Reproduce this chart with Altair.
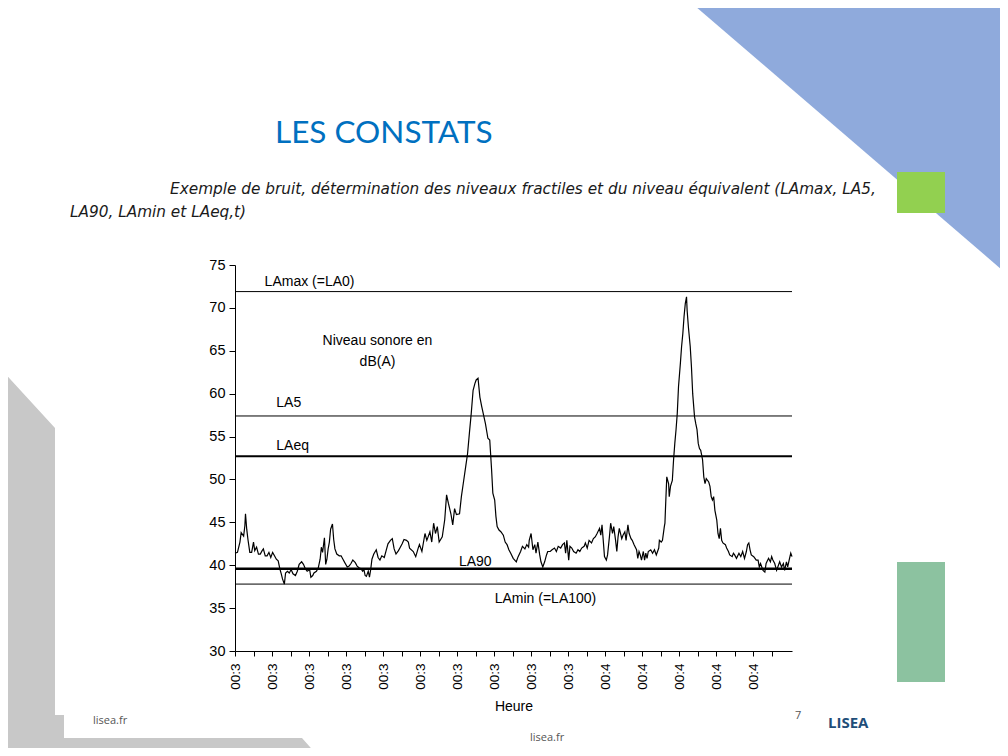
import altair as alt
import pandas as pd

# ---------------- data ----------------
# time in seconds from the first tick (one label = 1 minute), level in dB(A)
T1 = [0, 4, 8, 10, 14, 16, 17, 19, 21, 24,
      27, 30, 32, 35, 38, 41, 44, 46, 49, 52,
      55, 58, 61, 64, 67, 70, 73, 75, 77, 80,
      82, 85, 88, 91, 94, 98, 101, 104, 108, 111,
      114, 117, 121, 123, 126, 128, 132, 135, 138, 140,
      142, 145, 147, 149, 151, 153, 155, 158, 160, 162,
      165, 169, 172, 175, 178, 182, 185, 188, 191, 195,
      198, 201, 204, 207, 209, 211, 213, 216, 218, 220,
      222, 225, 229, 232, 235, 238, 242, 245, 248, 252,
      255, 258, 261, 265, 268, 271, 274, 278, 281]
D1 = [41.4, 41.5, 42.7, 43.8, 43.4, 44.6, 46.0, 44.2, 43.0, 41.5,
      41.5, 42.7, 41.7, 42.1, 41.3, 41.3, 41.7, 41.9, 41.1, 41.1,
      41.5, 40.9, 41.5, 41.1, 40.7, 40.5, 39.5, 39.0, 38.4, 37.8,
      39.1, 39.3, 39.1, 39.5, 39.0, 38.8, 39.3, 40.1, 40.4, 40.1,
      39.6, 39.3, 39.5, 38.6, 38.8, 39.1, 39.3, 39.7, 40.7, 42.1,
      41.5, 43.2, 40.1, 40.7, 41.9, 42.7, 44.2, 44.8, 43.0, 41.9,
      41.3, 41.1, 41.1, 40.7, 40.3, 39.8, 39.9, 40.2, 40.6, 40.3,
      39.9, 39.7, 39.6, 39.3, 39.5, 38.8, 38.7, 39.3, 38.6, 39.5,
      40.7, 41.3, 41.8, 40.9, 40.6, 41.1, 40.9, 41.7, 42.5, 42.9,
      43.1, 41.9, 41.3, 41.7, 42.1, 42.5, 43.0, 42.9, 42.7]

T2 = [283, 289, 293, 297, 299, 303, 308, 311, 316, 319,
      322, 325, 328, 331, 336, 340, 343, 346, 350, 353,
      356, 359, 364, 367, 370, 374, 377, 380, 383, 386,
      389, 391, 394, 397, 400, 403, 406, 410, 413, 416,
      418, 421, 423, 425, 428, 431, 435, 438, 441, 444,
      447, 451, 456, 459, 463, 466, 470, 473, 476]
D2 = [42.0, 41.6, 41.0, 42.0, 42.4, 41.6, 43.7, 42.9, 43.9, 42.7,
      44.9, 43.7, 44.5, 42.7, 43.3, 45.3, 48.2, 47.2, 46.0, 44.7,
      46.6, 45.9, 46.0, 48.0, 49.5, 51.5, 53.0, 55.4, 57.7, 60.4,
      61.2, 61.6, 61.8, 59.6, 58.5, 57.5, 56.5, 54.8, 54.6, 51.1,
      48.4, 47.6, 45.7, 44.5, 44.1, 43.9, 43.5, 42.7, 42.4, 41.8,
      41.4, 40.8, 40.4, 41.0, 41.6, 42.2, 41.9, 42.4, 42.1]

T3 = [477, 480, 483, 486, 488, 491, 494, 496, 499, 502,
      505, 507, 511, 514, 518, 521, 524, 528, 531, 534,
      536, 538, 541, 543, 546, 549, 553, 556, 559, 562,
      566, 568, 571, 574, 578, 581, 584, 587, 591, 593,
      595, 597, 599, 602, 604, 607, 609, 612, 614, 617,
      619, 621, 623, 627, 629, 632, 634, 637, 639, 642,
      644, 647, 651, 653, 655, 657, 659, 662, 664, 666,
      668, 670, 674, 677, 680, 683, 687, 688, 691, 693,
      696]
D3 = [42.9, 43.7, 41.8, 42.4, 41.4, 42.7, 41.2, 40.4, 39.8, 40.4,
      41.2, 41.6, 41.6, 41.8, 42.0, 41.6, 42.2, 42.0, 42.4, 42.6,
      41.4, 42.9, 40.6, 42.2, 42.0, 41.6, 41.4, 41.8, 41.6, 42.0,
      42.2, 42.6, 42.0, 42.9, 42.6, 43.1, 43.3, 43.7, 44.3, 43.5,
      44.7, 42.9, 41.0, 40.6, 41.2, 43.3, 44.9, 43.7, 44.5, 42.9,
      41.6, 43.3, 44.3, 43.1, 43.5, 43.9, 42.9, 44.7, 43.7, 43.1,
      42.9, 42.4, 41.8, 40.8, 41.6, 41.2, 40.6, 41.6, 40.6, 41.4,
      40.8, 41.6, 41.8, 41.4, 41.8, 41.2, 42.0, 42.9, 42.7, 42.9,
      44.5]

T4 = [697, 698, 700, 703, 704, 706, 709, 711, 713, 715,
      717, 719, 722, 724, 726, 728, 730, 732, 733, 735,
      738, 740, 742, 745, 747, 749, 751, 753, 755, 758,
      760, 762, 764, 768, 770, 772, 774, 776, 778, 781,
      783, 785, 787, 789, 791, 795, 797, 800, 802, 806,
      808, 810, 813, 817, 820, 823, 826, 829, 831, 833,
      835, 837, 841, 843, 845, 848, 850, 852, 856, 859,
      861, 865, 868, 870, 872, 875, 878, 881, 883, 886,
      889, 891, 894, 896, 899, 901, 903]
D4 = [44.9, 46.8, 50.3, 49.5, 48.0, 49.2, 49.9, 52.3, 54.2, 55.8,
      57.7, 60.8, 63.5, 65.5, 67.0, 69.0, 70.5, 71.3, 69.7, 67.8,
      65.5, 63.1, 60.0, 57.3, 56.5, 55.8, 54.2, 53.6, 53.4, 52.3,
      50.3, 49.5, 50.1, 49.7, 49.2, 48.0, 47.6, 48.0, 46.4, 45.3,
      43.7, 43.1, 44.3, 42.9, 42.6, 42.4, 42.0, 41.6, 41.2, 41.0,
      41.4, 41.2, 40.8, 41.4, 41.0, 41.6, 40.8, 41.6, 42.4, 42.6,
      41.8, 41.2, 41.0, 40.8, 40.6, 40.6, 39.8, 40.2, 39.4, 39.2,
      40.2, 40.8, 40.4, 41.0, 40.6, 40.2, 39.4, 40.0, 40.4, 39.8,
      40.2, 39.4, 40.4, 39.8, 40.8, 41.4, 41.0]

TIME_S = T1 + T2 + T3 + T4
LEVEL_DB = D1 + D2 + D3 + D4

REF_NAMES = ["LAmax", "LA5", "LAeq", "LA90", "LAmin"]
REF_LEVELS = [71.9, 57.4, 52.7, 39.6, 37.8]

ANNOT_TEXT = ["LAmax (=LA0)", "Niveau sonore en", "dB(A)", "LA5", "LAeq", "LA90", "LAmin (=LA100)"]
ANNOT_T = [48, 231, 231, 67, 67, 363, 421]
ANNOT_DB = [73.0, 66.1, 63.7, 58.9, 53.9, 40.4, 36.1]

TICK_SECONDS = list(range(0, 871, 30))
LABEL_SECONDS = list(range(0, 841, 60))
LABEL_TEXT = ["00:3"] * 10 + ["00:4"] * 5

TITLE = "LES CONSTATS"
SUBTITLE_1 = "Exemple de bruit, détermination des niveaux fractiles et du niveau équivalent (LAmax, LA5,"
SUBTITLE_2 = "LA90, LAmin et LAeq,t)"
X_TITLE = "Heure"
FOOTER_1 = "lisea.fr"
FOOTER_2 = "lisea.fr"
LOGO = "LISEA"
PAGE_NO = "7"

# ---------------- styles ----------------
RULE_WIDTH = {"LAmax": 1, "LA5": 1, "LAeq": 2, "LA90": 2.5, "LAmin": 1}
CENTERED = {"Niveau sonore en", "dB(A)"}
FONT = "Liberation Sans"
W, H = 557, 386

df_line = pd.DataFrame({"t": TIME_S, "db": LEVEL_DB})
dummy = pd.DataFrame({"d": [0]})

label_expr = " : ".join(f"datum.value == {s} ? '{t}'" for s, t in zip(LABEL_SECONDS, LABEL_TEXT)) + " : ''"

xscale = alt.Scale(domain=[0, 903], nice=False, zero=False)
yscale = alt.Scale(domain=[30, 75], nice=False, zero=False)
x_axis = alt.Axis(values=TICK_SECONDS, labelExpr=label_expr, labelAngle=270, labelFont=FONT,
                  labelFontSize=13.5, labelPadding=7, tickSize=5, labelOverlap=False, labelFlush=False,
                  title=X_TITLE, titleFont=FONT, titleFontSize=14, titleFontWeight="normal",
                  titlePadding=10, grid=False, domainColor="black", tickColor="black",
                  labelColor="black", titleColor="black")
y_axis = alt.Axis(values=list(range(30, 76, 5)), labelFont=FONT, labelFontSize=14.5, labelPadding=4,
                  tickSize=6, labelFlush=False, title=None, grid=False, domainColor="black",
                  tickColor="black", labelColor="black")


def X(field):
    return alt.X(f"{field}:Q", scale=xscale, axis=x_axis)


def Y(field):
    return alt.Y(f"{field}:Q", scale=yscale, axis=y_axis)


def shape(path, color):
    return alt.Chart(dummy).mark_point(shape=path, size=4, filled=True, color=color, opacity=1,
                                       strokeWidth=0).encode(x=alt.value(0), y=alt.value(0))


def box(x1, x2, y1, y2, color):
    return alt.Chart(dummy).mark_rect(color=color).encode(
        x=alt.value(x1), x2=alt.value(x2), y=alt.value(y1), y2=alt.value(y2))


def label(txt, x, y, **kw):
    return alt.Chart(pd.DataFrame({"txt": [txt]})).mark_text(align="left", baseline="middle", **kw).encode(
        x=alt.value(x), y=alt.value(y), text="txt:N")


layers = [
    shape("M453,-265L773,-265L773,10Z", "#8FAADC"),
    shape("M-235,103L-180,163L-180,450L-171,450L-171,473L67,473L83,491L-235,491Z", "#C8C8C8"),
    box(662, 710, -93, -52, "#92D050"),
    box(662, 710, 297, 417, "#8CC2A0"),
    label(FOOTER_1, -142, 456, font="Open Sans", fontSize=11, color="#555555"),
    label(FOOTER_2, 295, 473, font="Open Sans", fontSize=11, color="#555555"),
    label(LOGO, 593, 458, font="Open Sans", fontSize=15, fontWeight="bold", color="#1F4E79"),
    label(PAGE_NO, 560, 451, font="Open Sans", fontSize=11, color="#555555"),
    label(TITLE, 40, -131, font="Lato", fontSize=31.5, color="#0070C0"),
    label(SUBTITLE_1, -65, -76, font="DejaVu Sans", fontSize=15.3, fontStyle="italic", color="#1a1a1a"),
    label(SUBTITLE_2, -165, -53, font="DejaVu Sans", fontSize=15.3, fontStyle="italic", color="#1a1a1a"),
]

for name, lvl in zip(REF_NAMES, REF_LEVELS):
    layers.append(
        alt.Chart(pd.DataFrame({"level": [lvl]})).mark_rule(color="black", strokeWidth=RULE_WIDTH[name])
        .encode(y=Y("level"))
    )

layers.append(
    alt.Chart(df_line).mark_line(color="black", strokeWidth=1.2, interpolate="linear")
    .encode(x=X("t"), y=Y("db"), order="t:Q")
)

df_ann = pd.DataFrame({"label": ANNOT_TEXT, "t": ANNOT_T, "db": ANNOT_DB})
df_ann["centered"] = df_ann["label"].isin(CENTERED)
layers.append(
    alt.Chart(df_ann[~df_ann["centered"]]).mark_text(align="left", baseline="middle", font=FONT,
                                                     fontSize=14, color="black")
    .encode(x=X("t"), y=Y("db"), text="label:N")
)
layers.append(
    alt.Chart(df_ann[df_ann["centered"]]).mark_text(align="center", baseline="middle", font=FONT,
                                                    fontSize=14, color="black")
    .encode(x=X("t"), y=Y("db"), text="label:N")
)

chart = alt.layer(*layers).properties(
    width=W, height=H,
    padding={"left": 227, "top": 257, "right": 208, "bottom": 97},
    autosize=alt.AutoSizeParams(type="none"),
    background="white",
).configure_view(stroke=None)

chart.save("out.html", embed_options={"renderer": "svg", "actions": False})
